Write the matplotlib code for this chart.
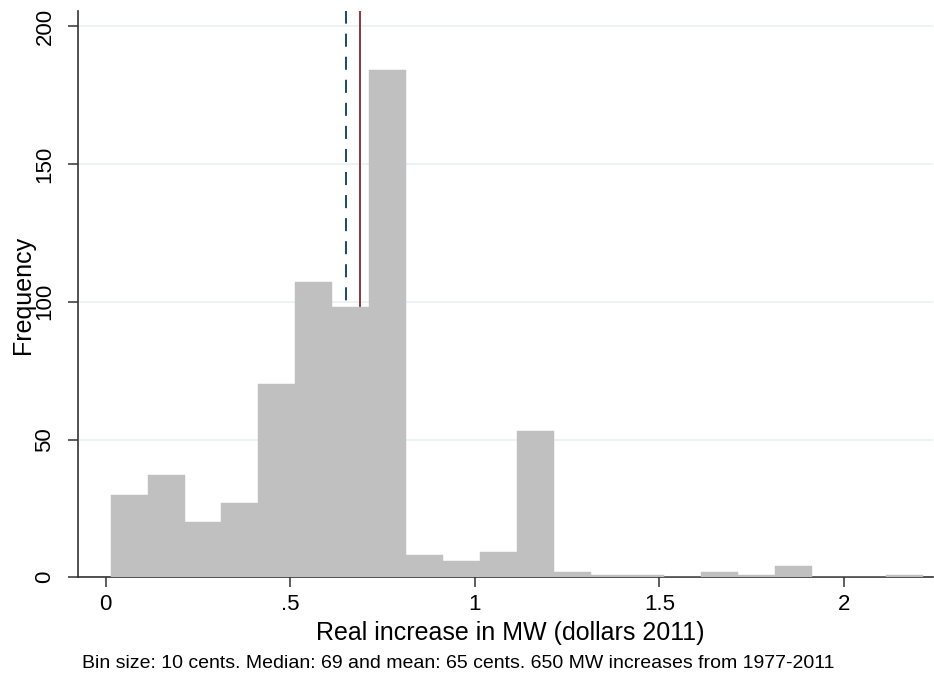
import matplotlib
matplotlib.use("Agg")
import matplotlib.pyplot as plt

# ---- data ----
bin_start = 0.0135
bin_width = 0.1
counts = [30, 37, 20, 27, 70, 107, 98, 184, 8, 6, 9, 53, 2, 1, 1, 0, 2, 1, 4, 0, 0, 1]
mean_value = 0.65
median_value = 0.69
x_ticks = [0, 0.5, 1, 1.5, 2]
x_tick_labels = ["0", ".5", "1", "1.5", "2"]
y_ticks = [0, 50, 100, 150, 200]
y_tick_labels = ["0", "50", "100", "150", "200"]
x_label = "Real increase in MW (dollars 2011)"
y_label = "Frequency"
caption = "Bin size: 10 cents. Median: 69 and mean: 65 cents. 650 MW increases from 1977-2011"

plt.rcParams['font.family'] = ['Liberation Sans', 'DejaVu Sans']
plt.rcParams['lines.scale_dashes'] = False

W, H = 934, 679
fig = plt.figure(figsize=(W / 100, H / 100), dpi=100)
ax = fig.add_axes([78 / W, (H - 577.3) / H, (933 - 78) / W, (577.3 - 10.7) / H])

lefts = [bin_start + i * bin_width for i in range(len(counts))]
ax.bar(lefts, counts, width=bin_width, align='edge', color='#c0c0c0',
       edgecolor='#c0c0c0', linewidth=0.3, zorder=3)

ax.axvline(mean_value, color='#1a476f', linewidth=1.4, linestyle=(0, (9.4, 7.2)), zorder=2)
ax.axvline(median_value, color='#90353b', linewidth=1.4, zorder=2)

ax.set_xlim(-0.075, 2.241)
ax.set_ylim(0, 205.6)

ax.set_yticks(y_ticks)
ax.set_yticklabels(y_tick_labels, rotation=90, va='center')
ax.set_xticks(x_ticks)
ax.set_xticklabels(x_tick_labels)

ax.grid(axis='y', color='#eaf2f3', linewidth=1.3, zorder=0)
ax.set_axisbelow(True)

for s in ['top', 'right']:
    ax.spines[s].set_visible(False)
for s in ['left', 'bottom']:
    ax.spines[s].set_color('#333333')
    ax.spines[s].set_linewidth(1.2)

ax.tick_params(axis='both', direction='out', length=7.2, width=1.1, color='#333333',
               labelsize=16, labelcolor='black')
ax.tick_params(axis='y', pad=9)
ax.tick_params(axis='x', pad=5)

fig.text(510 / W, (H - 640) / H, x_label, ha='center', va='baseline', fontsize=18)
fig.text(23 / W, (H - 295) / H, y_label, ha='center', va='center', rotation=90, fontsize=18)
fig.text(82 / W, (H - 668) / H, caption, ha='left', va='baseline', fontsize=14)

fig.savefig("out.png", dpi=100)
